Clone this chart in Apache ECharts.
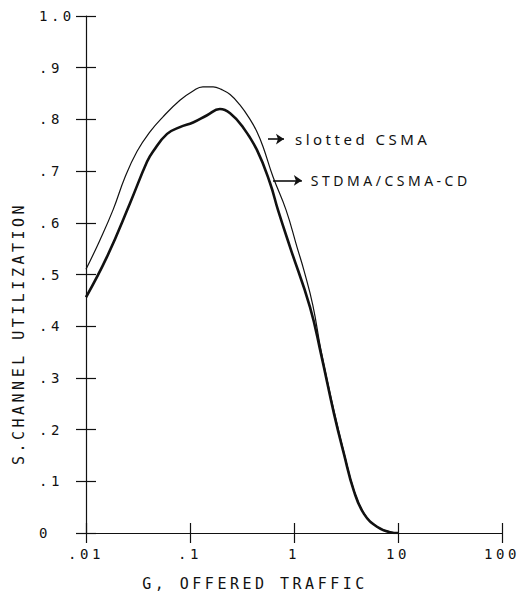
<!DOCTYPE html>
<html>
<head>
<meta charset="utf-8">
<script src="https://cdn.jsdelivr.net/npm/echarts@6/dist/echarts.min.js"></script>
<style>
  html, body { margin: 0; padding: 0; background: #fff; }
  #chart { width: 528px; height: 608px; }
  #chart text { letter-spacing: 3.5px; }
</style>
</head>
<body>
<div id="chart"></div>
<script>
// ---- data ----
const slottedG = [0.01, 0.0135, 0.0182, 0.0237, 0.0309, 0.0412, 0.055, 0.080, 0.107, 0.133, 0.167, 0.20, 0.243, 0.302, 0.378, 0.44, 0.504, 0.628, 0.838, 1.069, 1.25, 1.52, 1.82, 2.43, 3.02, 3.77, 4.71, 6.28, 8.57, 10];
const slottedS = [0.51, 0.565, 0.625, 0.688, 0.738, 0.776, 0.805, 0.837, 0.855, 0.863, 0.863, 0.858, 0.848, 0.828, 0.80, 0.776, 0.747, 0.689, 0.625, 0.553, 0.507, 0.440, 0.353, 0.235, 0.156, 0.083, 0.038, 0.012, 0.002, 0];

const stdmaG = [0.01, 0.0159, 0.0265, 0.0386, 0.0441, 0.0602, 0.080, 0.107, 0.146, 0.194, 0.243, 0.323, 0.44, 0.588, 0.701, 0.916, 1.425, 1.82, 2.43, 3.02, 3.77, 4.71, 6.28, 8.57, 10];
const stdmaS = [0.456, 0.534, 0.638, 0.718, 0.738, 0.772, 0.785, 0.794, 0.808, 0.820, 0.812, 0.785, 0.741, 0.677, 0.625, 0.553, 0.437, 0.346, 0.23, 0.153, 0.081, 0.037, 0.012, 0.001, 0];

const seriesNames = ['slotted CSMA', 'STDMA/CSMA-CD'];
const xTickValues = [0.01, 0.1, 1, 10, 100];
const xTickLabels = ['.01', '.1', '1', '10', '100'];
const yTickValues = [0, 0.1, 0.2, 0.3, 0.4, 0.5, 0.6, 0.7, 0.8, 0.9, 1.0];
const yTickLabels = ['0', '.1', '.2', '.3', '.4', '.5', '.6', '.7', '.8', '.9', '1.0'];
const xTitle = 'G, OFFERED TRAFFIC';
const yTitle = 'S.CHANNEL UTILIZATION';
// annotation arrows (data coordinates: start G, end G, S)
const arrowSlotted = [0.562, 0.801, 0.762];
const arrowStdma = [0.628, 1.19, 0.682];

// ---- chart ----
const pair = (g, s) => g.map((v, i) => [v, s[i]]);
const mono = '"DejaVu Sans Mono", "Liberation Mono", monospace';
const hand = '"Noto Sans", "DejaVu Sans", sans-serif';
const ink = '#111';
const gridBox = { left: 86, right: 26, top: 16, bottom: 75, containLabel: false };

function xFmt(v) {
  const i = xTickValues.findIndex(t => Math.abs(Math.log10(t) - Math.log10(v)) < 1e-6);
  return i >= 0 ? xTickLabels[i] : '';
}
function yFmt(v) {
  const i = yTickValues.findIndex(t => Math.abs(t - v) < 1e-6);
  return i >= 0 ? yTickLabels[i] : '';
}
const tickStyle = { color: ink, width: 1.2 };
const hiddenLine = { show: true, onZero: false, lineStyle: { color: ink, width: 1.2, opacity: 0 } };

const chart = echarts.init(document.getElementById('chart'), null, { renderer: 'svg' });
chart.setOption({
  animation: false,
  backgroundColor: '#fff',
  grid: [Object.assign({}, gridBox), Object.assign({}, gridBox)],
  xAxis: [
    {
      type: 'log', logBase: 10, min: 0.01, max: 100, position: 'bottom', gridIndex: 0,
      axisLine: { show: true, lineStyle: tickStyle },
      axisTick: { show: true, inside: false, length: 10, lineStyle: tickStyle },
      axisLabel: { formatter: xFmt, color: ink, fontFamily: mono, fontSize: 14, margin: 14 },
      splitLine: { show: false },
      minorTick: { show: false },
      name: xTitle, nameLocation: 'middle', nameGap: 43,
      nameTextStyle: { color: ink, fontFamily: mono, fontSize: 15, padding: [0, 78, 0, 0] }
    },
    {
      // inner half of the crossing ticks (coincident grid, same scale)
      type: 'log', logBase: 10, min: 0.01, max: 100, position: 'bottom', gridIndex: 1,
      axisLine: hiddenLine,
      axisTick: { show: true, inside: true, length: 10, lineStyle: tickStyle },
      axisLabel: { show: false }, splitLine: { show: false }
    }
  ],
  yAxis: [
    {
      type: 'value', min: 0, max: 1, interval: 0.1, position: 'left', gridIndex: 0,
      axisLine: { show: true, onZero: false, lineStyle: tickStyle },
      axisTick: { show: true, inside: false, length: 10, lineStyle: tickStyle },
      axisLabel: { formatter: yFmt, color: ink, fontFamily: mono, fontSize: 14, margin: 47, align: 'left' },
      splitLine: { show: false },
      name: yTitle, nameLocation: 'middle', nameGap: 60, nameRotate: 90,
      nameTextStyle: { color: ink, fontFamily: mono, fontSize: 15, padding: [0, 118, 0, 0] }
    },
    {
      type: 'value', min: 0, max: 1, interval: 0.1, position: 'left', gridIndex: 1,
      axisLine: hiddenLine,
      axisTick: { show: true, inside: true, length: 10, lineStyle: tickStyle },
      axisLabel: { show: false }, splitLine: { show: false }
    }
  ],
  series: [
    {
      // drawn on the second (coincident) grid so its axes carry the inner tick halves
      name: seriesNames[0], type: 'line', xAxisIndex: 1, yAxisIndex: 1,
      data: pair(slottedG, slottedS), showSymbol: false, smooth: 0.45,
      lineStyle: { color: ink, width: 1.2 },
      markLine: {
        silent: true, symbol: ['none', 'arrow'], symbolSize: 8,
        lineStyle: { color: ink, width: 1.6, type: 'solid' },
        label: { show: true, position: 'end', formatter: seriesNames[0], color: ink,
                 fontFamily: hand, fontSize: 15, distance: 11 },
        data: [[{ coord: [arrowSlotted[0], arrowSlotted[2]] }, { coord: [arrowSlotted[1], arrowSlotted[2]] }]]
      }
    },
    {
      name: seriesNames[1], type: 'line', xAxisIndex: 0, yAxisIndex: 0,
      data: pair(stdmaG, stdmaS), showSymbol: false, smooth: 0.45,
      lineStyle: { color: ink, width: 2.6 },
      markLine: {
        silent: true, symbol: ['none', 'arrow'], symbolSize: 8,
        lineStyle: { color: ink, width: 1.6, type: 'solid' },
        label: { show: true, position: 'end', formatter: seriesNames[1], color: ink,
                 fontFamily: hand, fontSize: 14, distance: 9 },
        data: [[{ coord: [arrowStdma[0], arrowStdma[2]] }, { coord: [arrowStdma[1], arrowStdma[2]] }]]
      }
    }
  ]
});
</script>
</body>
</html>
